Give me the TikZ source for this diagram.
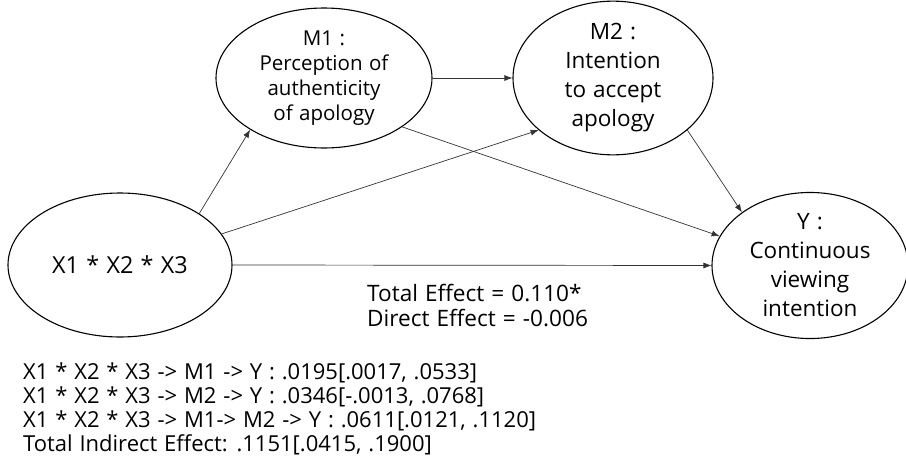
\documentclass[tikz,border=0pt]{standalone}
\usepackage{fontspec}
\setmainfont{Open Sans}[WordSpace=1.2]
\usetikzlibrary{arrows.meta,shapes.geometric}

\begin{document}
\begin{tikzpicture}[x=1pt,y=-1pt,
  var/.style={ellipse,draw=black,line width=1.1pt,inner sep=0pt,align=center},
  path/.style={draw=black!80,line width=0.7pt,-{Latex[length=8pt,width=6pt]}},
  small/.style={font=\fontsize{20.5}{25}\selectfont},
  big/.style={font=\fontsize{22.5}{29}\selectfont},
  note/.style={anchor=base west,inner sep=0pt,font=\fontsize{22}{24}\selectfont},
  effect/.style={anchor=base west,inner sep=0pt,font=\fontsize{22.6}{26}\selectfont}
]
\useasboundingbox (0,0) rectangle (906,474);

% latent variables
\node[var,small,minimum width=216pt,minimum height=140pt] (M1) at (324,78)
  {M1 :\\Perception of\\authenticity\\of apology};
\node[var,big,minimum width=200pt,minimum height=140pt] (M2) at (613,78)
  {M2 :\\Intention\\to accept\\apology};
\node[var,font=\fontsize{23.4}{28}\selectfont,minimum width=224pt,minimum height=144pt] (X) at (120,265)
  {X1 * X2 * X3};
\node[var,big,minimum width=196pt,minimum height=141pt] (Y) at (810,265.5)
  {Y :\\Continuous\\viewing\\intention};

% paths
\draw[path] (X.33)   -- (M1.215);
\draw[path] (M1.east) -- (M2.west);
\draw[path] (X.17)   -- (M2.215);
\draw[path] (M1.328) -- (Y.162);
\draw[path] (M2.325) -- (Y.142);
\draw[path] (X.east) -- (Y.west);

% effect sizes
\node[effect] (te) at (367,301) {Total Effect = 0.110*};
\node[effect] (de) at (367,326) {Direct Effect = -0.006};

% indirect effects
\node[note] (i1) at (23,379) {X1 * X2 * X3 -> M1 -> Y : .0195[.0017, .0533]};
\node[note] (i2) at (23,403) {X1 * X2 * X3 -> M2 -> Y : .0346[-.0013, .0768]};
\node[note] (i3) at (23,427) {X1 * X2 * X3 -> M1-> M2 -> Y : .0611[.0121, .1120]};
\node[note] (i4) at (23,451) {Total Indirect Effect: .1151[.0415, .1900]};
\end{tikzpicture}
\end{document}
